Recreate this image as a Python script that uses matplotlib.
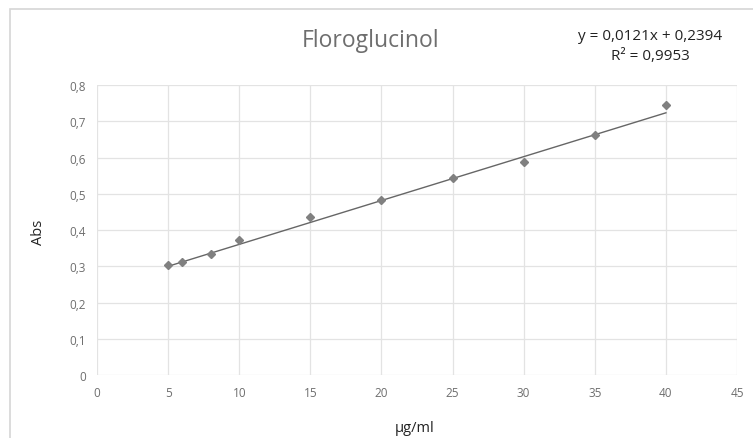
import matplotlib
matplotlib.use('Agg')
import matplotlib.pyplot as plt
from matplotlib.patches import Rectangle

# Calibration data: concentration (ug/ml) vs absorbance
conc = [5, 6, 8, 10, 15, 20, 25, 30, 35, 40]
absorb = [0.303, 0.312, 0.334, 0.372, 0.436, 0.483, 0.543, 0.588, 0.662, 0.745]

# Linear trendline coefficients shown on the chart
slope = 0.0121
intercept = 0.2394
r2 = 0.9953

x_ticks = [0, 5, 10, 15, 20, 25, 30, 35, 40, 45]
y_ticks = [0, 0.1, 0.2, 0.3, 0.4, 0.5, 0.6, 0.7, 0.8]

plt.rcParams['font.family'] = ['Open Sans', 'DejaVu Sans']
txt = '#6e6e6e'
grid = '#e3e3e3'

fig = plt.figure(figsize=(7.53, 4.39), dpi=100)
ax = fig.add_axes([0.1288, 0.1435, 0.85, 0.6605])

# Outer chart border
fig.patches.append(Rectangle((10 / 753, -0.05), 1.0, 1.0 - 10 / 439 + 0.05,
                             transform=fig.transFigure, fill=False,
                             edgecolor='#d6d6d6', linewidth=1.2))

ax.plot(conc, absorb, linestyle='none', marker='D', markersize=4,
        color='#808080', zorder=3)
xs = [conc[0], conc[-1]]
ax.plot(xs, [slope * v + intercept for v in xs], color='#666666',
        linewidth=1.0, zorder=2)

ax.set_xlim(0, 45)
ax.set_ylim(0, 0.8)
ax.set_xticks(x_ticks)
ax.set_yticks(y_ticks)
ax.set_xticklabels([str(v) for v in x_ticks])
ax.set_yticklabels([f'{v:g}'.replace('.', ',') for v in y_ticks])
ax.grid(True, color=grid, linewidth=0.9)
ax.set_axisbelow(True)
for s in ax.spines.values():
    s.set_visible(False)
ax.tick_params(length=0, labelsize=8.5, labelcolor=txt, pad=8)

fig.text(415 / 753, 1 - 429 / 439, 'µg/ml', fontsize=10.5, color='#222222',
         ha='center', va='center')
fig.text(38 / 753, 1 - 232 / 439, 'Abs', fontsize=10.5, color='#222222',
         ha='center', va='center', rotation=90)

fig.text(371 / 753, 1 - 41 / 439, 'Floroglucinol', fontsize=16.5,
         color=txt, ha='center', va='center')
fig.text(650 / 753, 1 - 36 / 439,
         f'y = {slope:.4f}x + {intercept:.4f}'.replace('.', ','),
         fontsize=11, color='#222222', ha='center', va='center')
fig.text(650 / 753, 1 - 57 / 439, f'R² = {r2:.4f}'.replace('.', ','),
         fontsize=11, color='#222222', ha='center', va='center')

fig.savefig('out.png', dpi=100)
